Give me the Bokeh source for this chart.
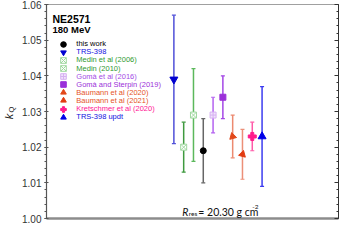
import numpy as np
from bokeh.plotting import figure
from bokeh.layouts import row
from bokeh.models import (Range1d, LinearAxis, FixedTicker, Legend, LegendItem,
                          Label, PrintfTickFormatter, CustomJSTickFormatter)
from bokeh.embed import file_html
from bokeh.resources import INLINE

# ---------------- data ----------------
labels = ["this work", "TRS-398", "Medin et al (2006)", "Medin (2010)",
          "Gomà et al (2016)", "Gomà and Sterpin (2019)", "Baumann et al (2020)",
          "Baumann et al (2021)", "Kretschmer et al (2020)", "TRS-398 updt"]
xpos = [4, 1, 2, 3, 5, 6, 7, 8, 9, 10]
kq = [1.019, 1.039, 1.020, 1.029, 1.029, 1.034, 1.023, 1.018, 1.023, 1.023]
err = [0.009, 0.018, 0.007, 0.013, 0.005, 0.006, 0.006, 0.007, 0.004, 0.014]
yticks = [1.00, 1.01, 1.02, 1.03, 1.04, 1.05, 1.06]

# ---------------- styles ----------------
markers = ["circle", "inverted_triangle", "square_x", "square_x", "square_cross",
           "square", "triangle", "triangle", "plus", "triangle"]
sizes = [6, 8, 6, 6, 6, 6, 7, 7, 8, 8]
angles = [0, 0, 0, 0, 0, 0, 3 * np.pi / 4, -3 * np.pi / 4, 0, 0]
fills = ["black", "#0000d0", "white", "white", "#f1e4fb", "#9b30d9", "#e2481a",
         "#e23c12", "#ff1a8c", "#0000e8"]
lcols = ["black", "#0000d0", "#9fd89f", "#9fd89f", "#d6b0f2", "#9b30d9", "#e2481a",
         "#e23c12", "#ff1a8c", "#0000e8"]
ecols = ["#666666", "#5050d8", "#3f9a3f", "#5cb85c", "#b463f0", "#a447e6", "#ec8a70",
         "#ec8f78", "#ff5aa8", "#3c3cf0"]
tcols = ["black", "#1010e0", "#2f9a2f", "#2f9a2f", "#a44be6", "#9b30d9", "#e5531f",
         "#e5531f", "#ff1493", "#1010e0"]

Hfig = 224
LW = 17                 # narrow strip holding the y-axis title
W = 341 - LW
ML, MR, MT, MB = 29, 3, 4, 6
H = Hfig - MT - MB      # frame height
FW = W - ML - MR        # frame width

# ---- strip with the k_Q title ----
pl = figure(width=LW, height=Hfig, output_backend="svg", toolbar_location=None,
            x_axis_location=None, y_axis_location=None,
            x_range=Range1d(0, 1), y_range=Range1d(0, 1),
            min_border_left=0, min_border_right=0, min_border_top=0,
            min_border_bottom=0)
pl.grid.visible = False
pl.outline_line_color = None

def lbl(fig, text, x, y, size, style="normal", font="Liberation Sans",
        color="#111111", align="left", baseline="alphabetic", angle=0):
    fig.add_layout(Label(x=x, y=y, x_units="screen", y_units="screen", text=text,
                         text_font=font, text_font_size=size, text_font_style=style,
                         text_color=color, text_align=align, text_baseline=baseline,
                         angle=angle))

SB = 218  # observed bottom of the strip's frame
lbl(pl, "k", 8, SB - 116, "11px", "italic", color="#222222", align="center",
    baseline="middle", angle=np.pi / 2)
lbl(pl, "Q", 11, SB - 109, "7.5px", "normal", color="#222222", align="center",
    baseline="middle", angle=np.pi / 2)

# ---- main chart ----
p = figure(width=W, height=Hfig, output_backend="svg", toolbar_location=None,
           x_range=Range1d(-12, 17.8), y_range=Range1d(1.0, 1.06),
           min_border_left=ML, min_border_right=MR, min_border_top=MT,
           min_border_bottom=MB)
p.grid.visible = False
p.outline_line_color = "#a0a0a0"
p.outline_line_width = 1
p.background_fill_color = "white"

minor = [float(v) for v in np.round(np.arange(1.0, 1.0601, 0.002), 4)]
yt = FixedTicker(ticks=yticks, minor_ticks=minor)

ya = p.yaxis[0]
ya.ticker = yt
ya.formatter = PrintfTickFormatter(format="%.2f")
ya.major_label_text_font = "Liberation Sans"
ya.major_label_text_font_size = "10px"
ya.major_label_text_color = "#333333"
ya.major_label_standoff = 3
ya.major_tick_in = 2
ya.major_tick_out = 2
ya.minor_tick_in = 0
ya.minor_tick_out = 2
ya.axis_line_color = "#555555"
ya.axis_line_width = 1.2
ya.major_tick_line_color = "#555555"
ya.minor_tick_line_color = "#555555"

xa = p.xaxis[0]
xa.ticker = FixedTicker(ticks=[], minor_ticks=[])
xa.major_label_standoff = 0
xa.major_tick_out = 0
xa.major_tick_in = 0
xa.axis_line_color = "#8c8c8c"
xa.axis_line_width = 2.5

ra = LinearAxis(ticker=yt, formatter=CustomJSTickFormatter(code="return ''"),
                major_tick_in=4, major_tick_out=0, minor_tick_in=2, minor_tick_out=0,
                major_label_standoff=0, axis_line_color="#333333",
                major_tick_line_color="#333333", minor_tick_line_color="#333333")
p.add_layout(ra, "right")

# error bars
lo = [k - e for k, e in zip(kq, err)]
hi = [k + e for k, e in zip(kq, err)]
p.segment(x0=xpos, y0=lo, x1=xpos, y1=hi, line_color=ecols, line_width=1.5)
p.scatter(x=xpos + xpos, y=lo + hi, marker="dash", size=4, line_color=ecols + ecols,
          line_width=1.2)

# markers + legends
row0 = 39.7
dy = 8.1
for i, lab in enumerate(labels):
    r = p.scatter([xpos[i]], [kq[i]], marker=markers[i], size=sizes[i],
                  fill_color=fills[i], line_color=lcols[i], angle=angles[i],
                  line_width=1)
    c = row0 + dy * i
    leg = Legend(items=[LegendItem(label=lab, renderers=[r])],
                 location=(10.3, H - c - 7), margin=0, padding=0, spacing=0,
                 border_line_color=None, background_fill_alpha=0,
                 glyph_width=14, glyph_height=14, label_height=14,
                 label_standoff=6, label_text_font="Liberation Sans",
                 label_text_font_size="7.5px", label_text_color=tcols[i])
    p.add_layout(leg)

lbl(p, "NE2571", 6, H - 14.7, "10.5px", "bold", color="black")
lbl(p, "180 MeV", 6, H - 25.3, "9.5px", "bold", color="black")

# R_res annotation
rx = 0.465 * FW
lbl(p, "R", rx, 7, "10.5px", "italic", font="Lato", color="#111111")
lbl(p, "res", rx + 6.5, 5, "6.5px", "normal", font="Lato", color="#111111")
lbl(p, "= 20.30 g cm", rx + 16, 7, "10.5px", "normal", font="Lato", color="#111111")
lbl(p, "-2", rx + 70, 12, "6.5px", "normal", font="Lato", color="#111111")

layout = row(pl, p, spacing=0)
open("out.html", "w").write(file_html(layout, INLINE))
